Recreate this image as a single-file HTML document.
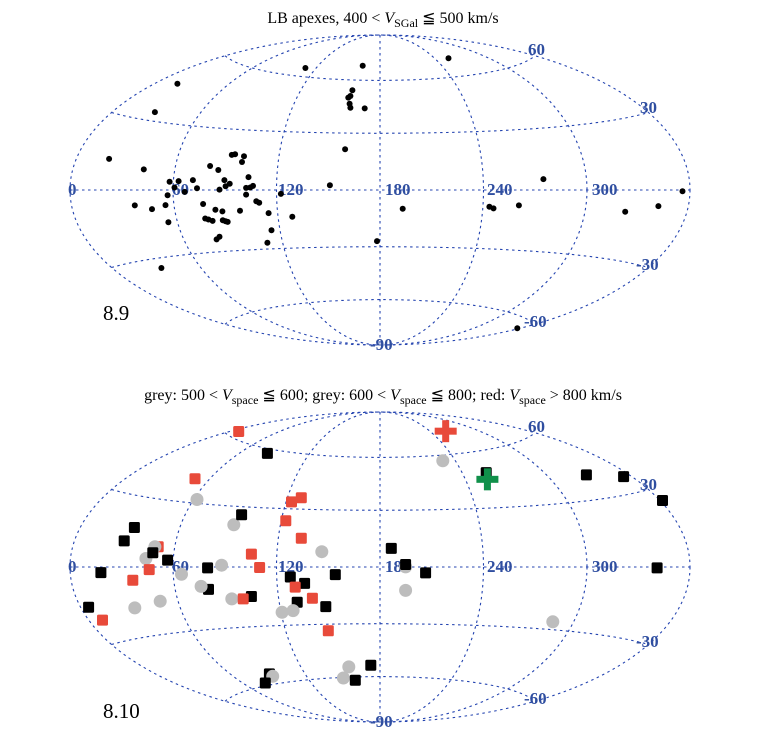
<!DOCTYPE html>
<html><head><meta charset="utf-8"><style>
html,body{margin:0;padding:0;background:#fff}
svg{display:block}
text{font-family:"Liberation Serif",serif}
.lab{fill:#2f4ea0;font-weight:bold;font-size:17px}
</style></head><body>
<svg id="s" width="758" height="749" xmlns="http://www.w3.org/2000/svg">
<text x="383" y="23" font-size="16" text-anchor="middle">LB apexes, 400 &lt; <tspan font-style="italic">V</tspan><tspan font-size="12" dy="4">SGal</tspan><tspan dy="-4"> ≦ 500 km/s</tspan></text>
<text x="383" y="400" font-size="16" text-anchor="middle">grey: 500 &lt; <tspan font-style="italic">V</tspan><tspan font-size="12" dy="4">space</tspan><tspan dy="-4"> ≦ 600; grey: 600 &lt; </tspan><tspan font-style="italic">V</tspan><tspan font-size="12" dy="4">space</tspan><tspan dy="-4"> ≦ 800; red: </tspan><tspan font-style="italic">V</tspan><tspan font-size="12" dy="4">space</tspan><tspan dy="-4"> &gt; 800 km/s</tspan></text>
<text x="103" y="320" font-size="21">8.9</text>
<text x="103" y="718" font-size="21">8.10</text>
<g id="g"></g>
</svg>
<script>
var NS="http://www.w3.org/2000/svg",G=document.getElementById("g");
function el(t,a,p){var e=document.createElementNS(NS,t);for(var k in a)e.setAttribute(k,a[k]);(p||G).appendChild(e);return e;}
function grid(cx,cy){
 var s=109.6;
 function P(lon,lat){var l=lon*Math.PI/180,f=lat*Math.PI/180,d=Math.sqrt(1+Math.cos(f)*Math.cos(l/2));
  return [cx+s*2*Math.SQRT2*Math.cos(f)*Math.sin(l/2)/d, cy-s*Math.SQRT2*Math.sin(f)/d];}
 var st={fill:"none",stroke:"#2444b0","stroke-width":1.1,"stroke-dasharray":"2.5,3.5"};
 [310,207,103.5].forEach(function(rx){el("ellipse",Object.assign({cx:cx,cy:cy,rx:rx,ry:155},st));});
 el("line",Object.assign({x1:cx,y1:cy-155,x2:cx,y2:cy+155},st));
 [-60,-30,0,30,60].forEach(function(la){var d="";for(var lo=-180;lo<=180;lo+=3){var p=P(lo,la);d+=(d?"L":"M")+p[0].toFixed(1)+","+p[1].toFixed(1);}var a=Object.assign({d:d},st);el("path",a);});
 var L=[["0",68,cy+5],["60",172,cy+5],["120",278,cy+5],["180",385,cy+5],["240",487,cy+5],["300",592,cy+5],
  ["60",528,cy-135],["30",640,cy-77],["-30",636,cy+80],["-60",524,cy+137],["-90",370,cy+160]];
 L.forEach(function(l){var t=el("text",{x:l[1],y:l[2],"class":"lab"});t.textContent=l[0];});
}
grid(380,190);grid(380,567);
function X(z){return z/2.445+60;}
var topPts=[[950,173],[600,202],[740,195],[287,249],[232,333],[715,268],[710,285],[705,290],[708,308],[710,320],[745,322],[697,443],[120,472],[205,503],[428,458],[420,460],[450,464],[445,481],[367,493],[387,505],[461,526],[402,535],[415,546],[405,553],[390,563],[325,535],[268,540],[290,538],[280,557],[305,570],[335,559],[455,558],[465,557],[472,552],[455,578],[263,580],[540,576],[660,550],[183,610],[225,621],[258,609],[350,606],[380,623],[397,628],[440,626],[480,598],[487,602],[510,633],[568,644],[265,660],[355,649],[363,652],[373,656],[398,654],[405,657],[410,659],[517,684],[390,703],[383,711],[507,721],[775,716],[838,620],[1050,614],[1060,619],[1122,610],[1182,532],[1382,629],[1463,612],[1522,568],[248,796],[1118,975]];
topPts.forEach(function(p){el("circle",{cx:X(p[0]).toFixed(1),cy:(p[1]/2.97).toFixed(1),r:3,fill:"#000"});});
var bot=[["R",437,153],["B",507,218],["G",936,240],["B",1287,282],["B",1378,287],["B",1473,358],["R",330,293],["G",335,355],["R",590,350],["R",566,362],["G",425,430],["B",444,400],["R",552,418],["B",182,438],["B",157,478],["R",590,470],["G",640,510],["R",240,495],["G",232,495],["G",210,530],["B",227,513],["B",263,535],["R",468,517],["R",488,557],["B",810,500],["G",845,555],["B",845,548],["B",894,573],["B",1460,558],["B",100,572],["R",218,563],["G",395,550],["B",361,558],["G",297,577],["R",178,595],["B",563,585],["B",673,578],["B",598,604],["R",575,615],["B",363,622],["G",345,613],["G",420,650],["B",468,643],["R",448,650],["R",617,648],["B",580,660],["B",650,673],["G",543,690],["G",570,685],["G",845,625],["G",1205,718],["B",70,675],["R",104,713],["G",183,677],["G",245,657],["R",656,745],["G",706,852],["B",760,847],["G",693,885],["B",722,892],["B",512,873],["G",520,880],["B",502,900],["B",1042,275]];
bot.forEach(function(p){var x=X(p[1]),y=380+p[2]/2.97;
 if(p[0]=="G")el("circle",{cx:x.toFixed(1),cy:y.toFixed(1),r:6.5,fill:"#bdbdbd"});
 else el("rect",{x:(x-5.5).toFixed(1),y:(y-5.5).toFixed(1),width:11,height:11,rx:1.5,fill:p[0]=="R"?"#e84a3a":"#000"});});
function plus(x,y,c){el("rect",{x:x-11,y:y-3.5,width:22,height:7,fill:c});el("rect",{x:x-3.5,y:y-11,width:7,height:22,fill:c});}
plus(X(943),380+152/2.97,"#e84a3a");plus(X(1045),380+295/2.97,"#10904a");
</script>
</body></html>
